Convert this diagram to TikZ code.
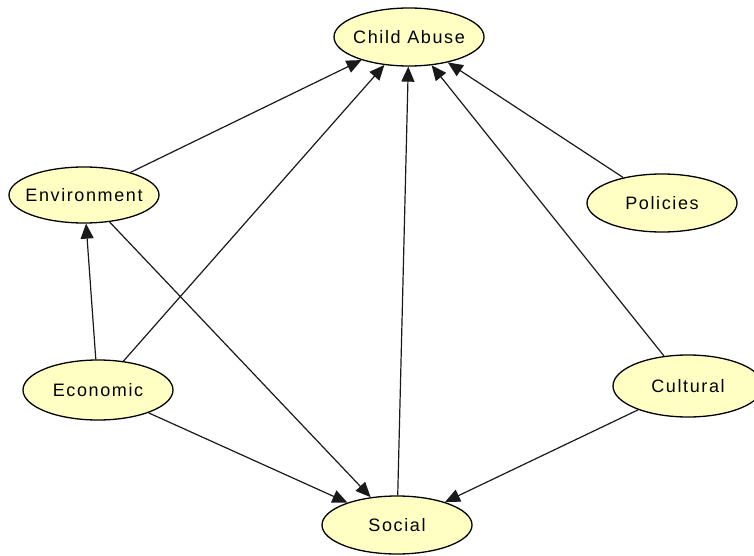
\documentclass[tikz,border=0pt]{standalone}
\usepackage{fontspec}
\setmainfont{Liberation Sans}[LetterSpace=9]
\usetikzlibrary{shapes.geometric,arrows.meta}
\definecolor{nodefill}{HTML}{FFFFC4}
\newcommand{\lbl}[1]{\makebox[0pt]{#1}}
\tikzset{
  vnode/.style={ellipse, draw=black, line width=1.3pt, fill=nodefill,
    minimum width=150pt, minimum height=58pt, inner sep=0pt,
    font=\fontsize{18}{21}\selectfont},
  edge/.style={draw=black!90, line width=1.2pt, -{Triangle[length=15pt,width=13pt]}}
}
\begin{document}
\begin{tikzpicture}[x=1pt,y=-1pt]
\useasboundingbox (0,0) rectangle (754,556);
\node[vnode] (child) at (409,37) {\lbl{Child Abuse}};
\node[vnode, minimum height=56pt] (env) at (84,195) {\lbl{Environment}};
\node[vnode] (pol) at (662,203) {\lbl{Policies}};
\node[vnode, minimum height=60pt] (eco) at (98,390) {\lbl{Economic}};
\node[vnode, minimum height=62pt] (cul) at (688,386) {\lbl{Cultural}};
\node[vnode] (soc) at (397,525) {\lbl{Social}};
\draw[edge] (env) -- (child);
\draw[edge] (eco) -- (child);
\draw[edge] (soc) -- (child);
\draw[edge] (cul) -- (child);
\draw[edge] (pol) -- (child);
\draw[edge] (eco) -- (env);
\draw[edge] (env) -- (soc);
\draw[edge] (eco) -- (soc);
\draw[edge] (cul) -- (soc);
\end{tikzpicture}
\end{document}
